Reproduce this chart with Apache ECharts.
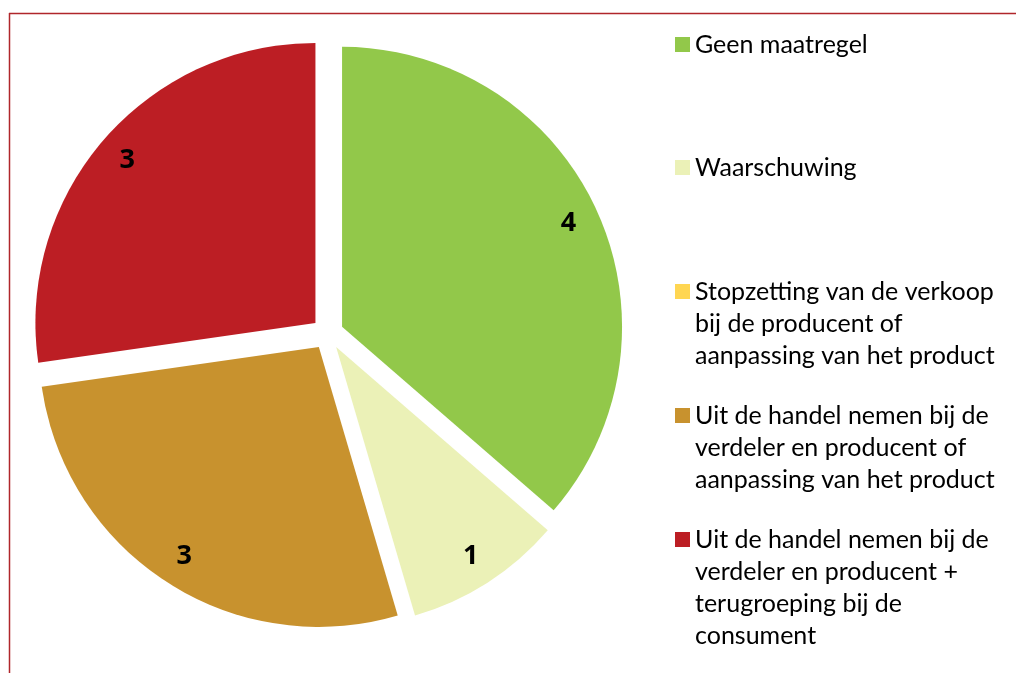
<!DOCTYPE html>
<html>
<head>
<meta charset="utf-8">
<script src="https://cdn.jsdelivr.net/npm/echarts@6/dist/echarts.min.js"></script>
<style>
  html, body { margin: 0; padding: 0; background: #ffffff; }
  #chart { width: 1017px; height: 673px; }
</style>
</head>
<body>
<div id="chart"></div>
<script>
const categories = [
  'Geen maatregel',
  'Waarschuwing',
  'Stopzetting van de verkoop bij de producent of aanpassing van het product',
  'Uit de handel nemen bij de verdeler en producent of aanpassing van het product',
  'Uit de handel nemen bij de verdeler en producent + terugroeping bij de consument'
];
const values = [4, 1, 0, 3, 3];
const colors = ['#92C84A', '#EBF1B7', '#FFD652', '#C8922E', '#BC1E24'];
const legendLines = [
  ['Geen maatregel'],
  ['Waarschuwing'],
  ['Stopzetting van de verkoop', 'bij de producent of', 'aanpassing van het product'],
  ['Uit de handel nemen bij de', 'verdeler en producent of', 'aanpassing van het product'],
  ['Uit de handel nemen bij de', 'verdeler en producent +', 'terugroeping bij de', 'consument']
];

const FONT = 'Lato';
const LINE = 32;
const legendCenters = [44.5, 167.5, 291.5, 415.5, 539.5];
const CENTER = [327.5, 333.5];
const R = 280;
const OFFSET = 16;

const chart = echarts.init(document.getElementById('chart'), null, { renderer: 'canvas' });

const legends = categories.map((name, i) => {
  const n = legendLines[i].length;
  return {
    data: [name],
    orient: 'vertical',
    left: 675,
    top: legendCenters[i] - (2 * n - 1) * LINE / 2,
    padding: 0,
    icon: 'rect',
    itemWidth: 15,
    itemHeight: 15,
    selectedMode: false,
    formatter: (nm) => {
      const lines = legendLines[categories.indexOf(nm)];
      const pad = new Array(lines.length - 1).fill(' ');
      return pad.concat(lines).join('\n');
    },
    textStyle: {
      fontFamily: FONT,
      fontSize: 25,
      color: '#000000',
      lineHeight: LINE
    }
  };
});

const pieData = categories.map((name, i) => ({
  name: name,
  value: values[i],
  selected: true,
  itemStyle: { color: colors[i] }
}));

const labelData = categories.map((name, i) => ({
  name: name,
  value: values[i],
  selected: true,
  label: { show: values[i] > 0 }
}));

chart.setOption({
  animation: false,
  backgroundColor: '#ffffff',
  color: colors,
  legend: legends,
  graphic: [
    { type: 'line', shape: { x1: 9, y1: 13.5, x2: 1016, y2: 13.5 }, style: { stroke: '#B0262B', lineWidth: 1.5 }, silent: true },
    { type: 'line', shape: { x1: 9.5, y1: 13, x2: 9.5, y2: 673 }, style: { stroke: '#B0262B', lineWidth: 1.5 }, silent: true }
  ],
  series: [
    {
      type: 'pie',
      center: CENTER,
      radius: [0, R],
      startAngle: 90,
      clockwise: true,
      selectedMode: 'multiple',
      selectedOffset: OFFSET,
      avoidLabelOverlap: false,
      label: { show: false },
      labelLine: { show: false },
      emphasis: { disabled: true },
      itemStyle: { borderWidth: 0 },
      data: pieData
    },
    {
      type: 'pie',
      center: CENTER,
      radius: [212, R],
      startAngle: 90,
      clockwise: true,
      selectedMode: 'multiple',
      selectedOffset: OFFSET,
      silent: true,
      avoidLabelOverlap: false,
      itemStyle: { color: 'rgba(0,0,0,0)', borderWidth: 0 },
      emphasis: { disabled: true },
      label: {
        show: true,
        position: 'inside',
        formatter: '{c}',
        fontFamily: 'Open Sans',
        fontWeight: 'bold',
        fontSize: 27,
        color: '#000000'
      },
      labelLine: { show: false },
      data: labelData
    }
  ]
});
</script>
</body>
</html>
